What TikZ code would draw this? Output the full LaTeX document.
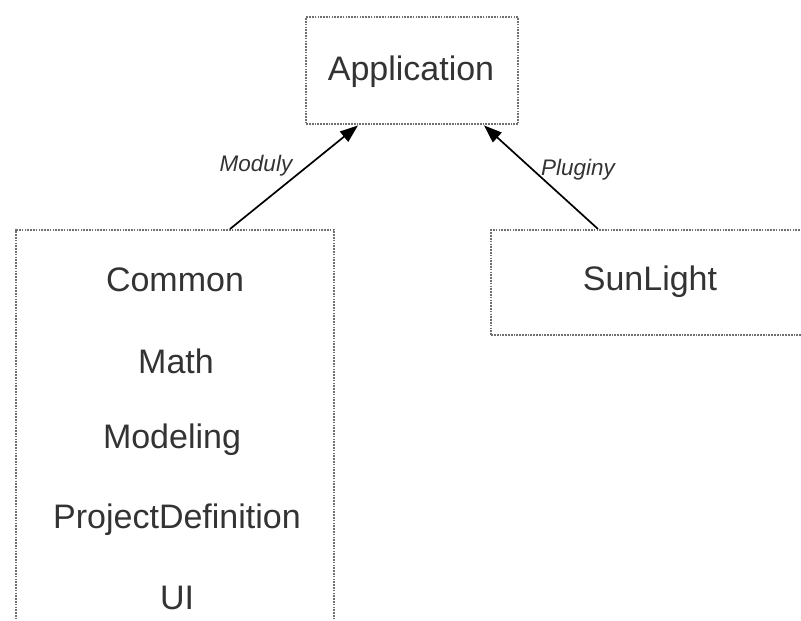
\documentclass[tikz,border=0pt]{standalone}
\usepackage{fontspec}
\setmainfont{Liberation Sans}
\usetikzlibrary{arrows.meta}
\definecolor{ink}{HTML}{333333}
\definecolor{frame}{HTML}{707070}
\tikzset{
  dotbox/.style={draw=frame, line width=2.4pt, dash pattern=on 1.7pt off 1.1pt,
    rectangle, inner sep=0pt, anchor=north west},
  boxtext/.style={text=ink, font=\fontsize{34}{40}\selectfont, inner sep=0pt},
  edgetag/.style={text=ink, font=\fontsize{22.5}{26}\selectfont\itshape, inner sep=0pt},
  link/.style={line width=1.7pt, black, -{Triangle[length=18pt,width=13pt]}}
}
\begin{document}
\begin{tikzpicture}[x=1pt,y=-1pt]
\useasboundingbox (0,0) rectangle (801,621);
\clip (0,0) rectangle (801,621);
% boxes
\node[dotbox, minimum width=212pt, minimum height=107pt] (app) at (305,16) {};
\node[dotbox, minimum width=318pt, minimum height=410pt] (mods) at (15,229) {};
\node[dotbox, minimum width=330pt, minimum height=105pt] (plug) at (490,229) {};
% box contents
\node[boxtext] (tapp) at (411,72) {Application};
\node[boxtext] (common) at (175,280) {Common};
\node[boxtext] (math) at (176,361) {Math};
\node[boxtext] (modeling) at (172,440) {Modeling};
\node[boxtext] (projdef) at (177,520) {ProjectDefinition};
\node[boxtext] (ui) at (177,598) {UI};
\node[boxtext] (sun) at (650,282) {SunLight};
% connectors
\draw[link] ([xshift=215pt]mods.north west) -- ([xshift=53pt]app.south west);
\draw[link] ([xshift=108pt]plug.north west) -- ([xshift=179pt]app.south west);
\node[edgetag] (lmod) at (256,166) {Moduly};
\node[edgetag] (lplug) at (578,170) {Pluginy};
\end{tikzpicture}
\end{document}
